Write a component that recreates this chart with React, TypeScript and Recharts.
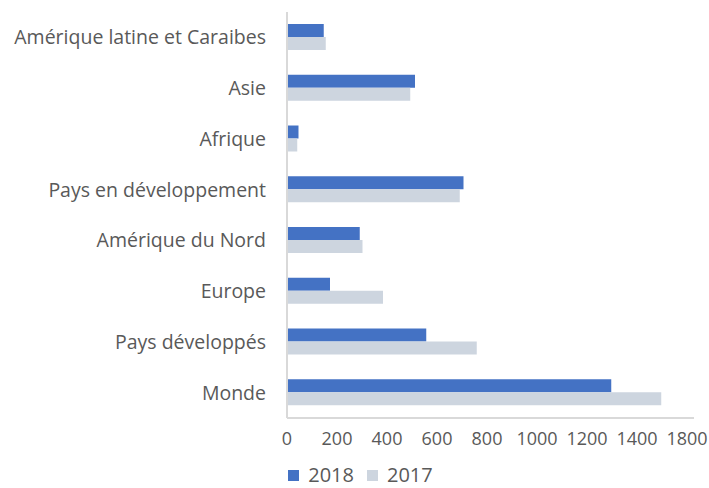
import React from "react";
import { BarChart, Bar, XAxis, YAxis, Legend } from "recharts";

const categories = [
  "Amérique latine et Caraibes",
  "Asie",
  "Afrique",
  "Pays en développement ",
  "Amérique du Nord",
  "Europe",
  "Pays développés",
  "Monde",
];
const values2018 = [147, 512, 46, 706, 291, 172, 557, 1297];
const values2017 = [155, 493, 41, 691, 302, 384, 759, 1497];
const tickValues = [0, 200, 400, 600, 800, 1000, 1200, 1400, 1600];
const tickLabels = ["0", "200", "400", "600", "800", "1000", "1200", "1400", "1800"];

const data = categories.map((c, i) => ({ name: c, y2018: values2018[i], y2017: values2017[i] }));

const FONT = "'Open Sans', sans-serif";
const TEXT = "#595959";
const C2018 = "#4472C4";
const C2017 = "#CDD5DF";

const LegendContent = () => (
  <div style={{ display: "flex", justifyContent: "center", alignItems: "center", fontFamily: FONT, fontSize: 20, color: TEXT, paddingLeft: 12, lineHeight: "24px", height: 24 }}>
    <span style={{ display: "inline-block", width: 11, height: 11, background: C2018, marginRight: 9 }} />
    <span style={{ marginRight: 13 }}>2018</span>
    <span style={{ display: "inline-block", width: 11, height: 11, background: C2017, marginRight: 9 }} />
    <span>2017</span>
  </div>
);

export default function App() {
  return (
    <div style={{ position: "absolute", left: 0, top: 0, width: 709, height: 488, background: "#fff" }}>
      <BarChart
        width={709}
        height={488}
        data={data}
        layout="vertical"
        margin={{ top: 12, right: 15, bottom: 6, left: 0 }}
        barGap={0}
        barSize={13}
      >
        <XAxis
          type="number"
          domain={[0, 1628]}
          ticks={tickValues}
          tickFormatter={(v: number) => tickLabels[tickValues.indexOf(v)]}
          axisLine={{ stroke: "#D9D9D9", strokeWidth: 2 }}
          tickLine={false}
          tick={{ fill: TEXT, fontSize: 18, fontFamily: FONT }}
          tickMargin={8}
          height={40}
          interval={0}
        />
        <YAxis
          type="category"
          dataKey="name"
          width={287}
          axisLine={{ stroke: "#D9D9D9", strokeWidth: 2 }}
          tickLine={false}
          tickSize={0}
          tickMargin={21}
          tick={{ fill: TEXT, fontSize: 19.5, fontFamily: FONT }}
          interval={0}
        />
        <Legend
          verticalAlign="bottom"
          height={24}
          wrapperStyle={{ top: 463, left: 0, width: 709, height: 24 }}
          content={<LegendContent />}
        />
        <Bar dataKey="y2018" name="2018" fill={C2018} isAnimationActive={false} />
        <Bar dataKey="y2017" name="2017" fill={C2017} isAnimationActive={false} />
      </BarChart>
    </div>
  );
}
